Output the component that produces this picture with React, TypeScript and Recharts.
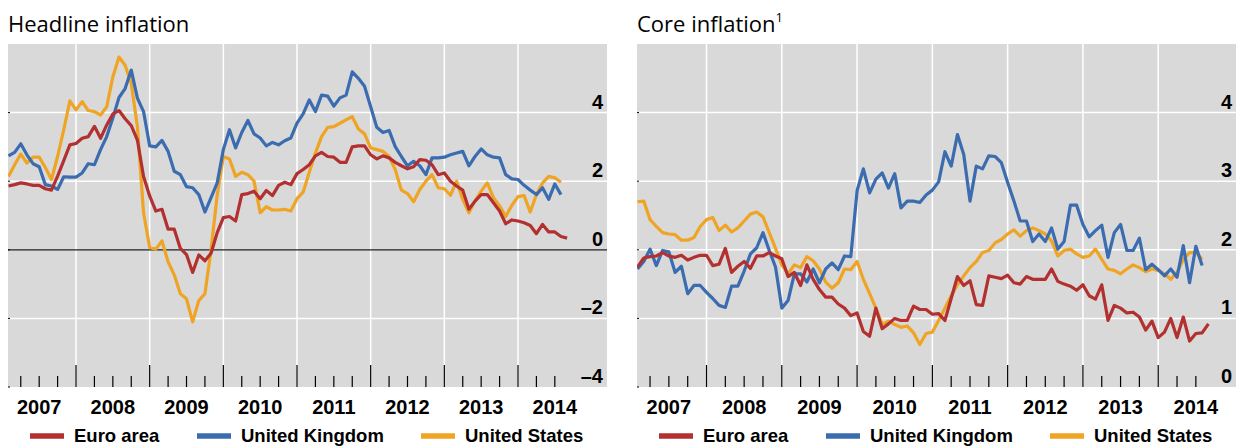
import { LineChart, Line, XAxis, YAxis, CartesianGrid, ReferenceLine } from 'recharts';

// months are counted from Jan 2007 = 0; the series start in Feb 2007
const firstMonth = 1;

const years = ['2007', '2008', '2009', '2010', '2011', '2012', '2013', '2014'];
const quarterTicks = Array.from({ length: 30 }, (_, i) => (i + 1) * 3);
const yearLines = [12, 24, 36, 48, 60, 72, 84];

const headlineTicks = [-4, -2, 0, 2, 4];
const headlineTickLabels = ['\u20134', '\u20132', '0', '2', '4'];
const coreTicks = [0, 1, 2, 3, 4];
const coreTickLabels = ['0', '1', '2', '3', '4'];

const headlineEuro = [
    1.86, 1.9, 1.95, 1.92, 1.88, 1.88, 1.78, 1.74, 2.15, 2.6, 3.06, 3.1,
    3.25, 3.3, 3.6, 3.25, 3.64, 3.96, 4.06, 3.82, 3.62, 3.2, 2.14, 1.57,
    1.13, 1.18, 0.6, 0.6, 0.04, -0.14, -0.66, -0.15, -0.32, -0.1, 0.5, 0.94,
    0.97, 0.84, 1.61, 1.64, 1.71, 1.49, 1.73, 1.58, 1.88, 1.97, 1.9, 2.22,
    2.34, 2.48, 2.74, 2.84, 2.72, 2.7, 2.55, 2.55, 3.0, 3.03, 3.03, 2.77,
    2.65, 2.74, 2.68, 2.55, 2.45, 2.36, 2.42, 2.63, 2.61, 2.48, 2.19, 2.24,
    2.0, 1.86, 1.74, 1.18, 1.42, 1.61, 1.61, 1.37, 1.13, 0.76, 0.87, 0.84,
    0.79, 0.71, 0.47, 0.74, 0.52, 0.52, 0.39, 0.34,
];
const headlineUK = [
    2.74, 2.84, 3.09, 2.77, 2.51, 2.42, 1.9, 1.86, 1.76, 2.13, 2.12, 2.12,
    2.24, 2.51, 2.48, 2.92, 3.3, 3.84, 4.44, 4.7, 5.24, 4.42, 4.03, 3.03,
    3.0, 3.19, 2.87, 2.29, 2.19, 1.84, 1.81, 1.61, 1.1, 1.52, 1.95, 2.92,
    3.5, 2.97, 3.42, 3.77, 3.38, 3.26, 3.03, 3.13, 3.06, 3.18, 3.26, 3.69,
    3.96, 4.37, 4.03, 4.51, 4.48, 4.19, 4.43, 4.51, 5.19, 5.0, 4.77, 4.17,
    3.57, 3.42, 3.48, 3.01, 2.72, 2.45, 2.58, 2.45, 2.19, 2.68, 2.68, 2.7,
    2.77, 2.82, 2.87, 2.45, 2.72, 2.94, 2.77, 2.7, 2.68, 2.19, 2.07, 2.05,
    1.88, 1.74, 1.61, 1.81, 1.47, 1.92, 1.61,
];
const headlineUS = [
    2.14, 2.48, 2.79, 2.53, 2.7, 2.7, 2.4, 2.05, 2.72, 3.5, 4.34, 4.08,
    4.32, 4.06, 4.03, 3.93, 4.17, 5.04, 5.62, 5.38, 4.85, 3.59, 1.08, 0.07,
    0.02, 0.26, -0.35, -0.73, -1.28, -1.43, -2.1, -1.48, -1.28, 0.0, 1.6, 2.72,
    2.65, 2.14, 2.26, 2.19, 2.0, 1.08, 1.26, 1.16, 1.16, 1.18, 1.13, 1.49,
    1.68, 2.26, 2.82, 3.3, 3.57, 3.59, 3.69, 3.79, 3.88, 3.52, 3.38, 2.97,
    2.92, 2.87, 2.72, 2.34, 1.74, 1.64, 1.4, 1.76, 2.0, 2.19, 1.81, 1.78,
    1.59, 2.0, 1.47, 1.08, 1.42, 1.71, 1.95, 1.52, 1.28, 0.97, 1.3, 1.55,
    1.58, 1.1, 1.61, 1.95, 2.14, 2.1, 1.97,
];

const coreEuro = [
    1.75, 1.88, 1.9, 1.91, 1.96, 1.91, 1.89, 1.92, 1.85, 1.89, 1.92, 1.92,
    1.77, 1.79, 2.02, 1.67, 1.76, 1.83, 1.73, 1.91, 1.91, 1.96, 1.91, 1.87,
    1.61, 1.67, 1.48, 1.78, 1.57, 1.42, 1.31, 1.31, 1.21, 1.15, 1.04, 1.08,
    0.81, 0.74, 1.15, 0.85, 0.92, 1.0, 0.97, 0.97, 1.18, 1.13, 1.13, 1.06,
    1.07, 0.97, 1.29, 1.61, 1.48, 1.55, 1.2, 1.19, 1.62, 1.6, 1.58, 1.63,
    1.52, 1.5, 1.61, 1.57, 1.57, 1.57, 1.72, 1.54, 1.5, 1.47, 1.41, 1.49,
    1.33, 1.28, 1.49, 0.97, 1.19, 1.15, 1.08, 1.09, 1.02, 0.83, 0.96, 0.72,
    0.8, 1.0, 0.72, 1.02, 0.67, 0.78, 0.79, 0.92,
];
const coreUK = [
    1.72, 1.83, 2.01, 1.77, 1.99, 1.97, 1.67, 1.76, 1.36, 1.48, 1.48, 1.38,
    1.29, 1.19, 1.16, 1.47, 1.47, 1.69, 1.94, 2.03, 2.25, 1.99, 1.75, 1.15,
    1.26, 1.65, 1.65, 1.53, 1.72, 1.52, 1.72, 1.81, 1.71, 1.91, 1.9, 2.86,
    3.18, 2.83, 3.03, 3.12, 2.9, 3.11, 2.61, 2.71, 2.71, 2.69, 2.8, 2.87,
    2.99, 3.43, 3.22, 3.68, 3.39, 2.71, 3.22, 3.18, 3.37, 3.36, 3.27, 2.98,
    2.71, 2.42, 2.42, 2.12, 2.23, 2.12, 2.32, 2.01, 2.12, 2.65, 2.65, 2.37,
    2.19, 2.28, 2.36, 1.89, 2.25, 2.37, 1.99, 1.99, 2.17, 1.71, 1.79, 1.71,
    1.62, 1.72, 1.6, 2.06, 1.52, 2.05, 1.77,
];
const coreUS = [
    2.7, 2.71, 2.44, 2.34, 2.25, 2.23, 2.22, 2.14, 2.14, 2.18, 2.34, 2.44,
    2.47, 2.28, 2.36, 2.26, 2.32, 2.42, 2.52, 2.55, 2.48, 2.25, 2.02, 1.78,
    1.65, 1.78, 1.74, 1.9, 1.84, 1.72, 1.53, 1.44, 1.52, 1.72, 1.71, 1.83,
    1.57, 1.36, 1.15, 0.91, 0.96, 0.91, 0.87, 0.89, 0.79, 0.62, 0.78, 0.8,
    0.97, 1.15, 1.33, 1.49, 1.62, 1.74, 1.83, 1.96, 1.99, 2.1, 2.15, 2.23,
    2.29, 2.2, 2.28, 2.32, 2.28, 2.23, 2.13, 1.91, 1.99, 2.01, 1.94, 1.89,
    1.91, 2.01, 1.86, 1.72, 1.7, 1.65, 1.72, 1.78, 1.74, 1.68, 1.72, 1.7,
    1.65, 1.57, 1.67, 1.86, 1.96, 1.96, 1.86,
];

const RED = '#b2302f';
const BLUE = '#3a6caf';
const ORANGE = '#efa423';
const GREY = '#d9d9d9';
const ARIAL = '"Liberation Sans", Arial, sans-serif';

const buildRows = (ea: number[], uk: number[], us: number[]) => {
    const n = Math.max(ea.length, uk.length, us.length);
    return Array.from({ length: n }, (_, i) => ({
        m: firstMonth + i,
        ea: ea[i],
        uk: uk[i],
        us: us[i],
    }));
};

const PLOT_LEFT = 8;
const PLOT_RIGHT = 607;

const XTick = ({ x, y, payload }: any) => {
    const v = payload.value;
    const major = v % 12 === 0;
    const label = v % 12 === 6 ? years[(v - 6) / 12] : null;
    return (
        <g>
            <line x1={x} x2={x} y1={y} y2={y - (major ? 22 : 11)} stroke="#000" strokeWidth={1.2} />
            {label && (
                <text x={x} y={y + 27} textAnchor="middle" fontSize={20} fontWeight="bold" fontFamily={ARIAL} fill="#000">
                    {label}
                </text>
            )}
        </g>
    );
};

const makeYTick = (ticks: number[], labels: string[]) => ({ y, payload }: any) => {
    const label = labels[ticks.indexOf(payload.value)];
    return (
        <g>
            <line x1={PLOT_LEFT} x2={PLOT_LEFT + 2} y1={y} y2={y} stroke="#000" strokeWidth={1} />
            <text x={PLOT_RIGHT - 4} y={y - 4} textAnchor="end" fontSize={20} fontWeight="bold" fontFamily={ARIAL} fill="#000">
                {label}
            </text>
        </g>
    );
};

interface PanelProps {
    rows: { m: number; ea?: number; uk?: number; us?: number }[];
    width: number;
    xMax: number;
    yDomain: [number, number];
    ticks: number[];
    tickLabels: string[];
    gridValues: number[];
    zeroLine?: boolean;
}

const Panel = ({ rows, width, xMax, yDomain, ticks, tickLabels, gridValues, zeroLine }: PanelProps) => (
    <LineChart width={width} height={447} data={rows} margin={{ top: 44, right: width - PLOT_RIGHT, left: PLOT_LEFT, bottom: 0 }}>
        <CartesianGrid horizontal={false} vertical={false} fill={GREY} stroke="none" />
        {yearLines.map((m) => (
            <ReferenceLine key={'v' + m} x={m} stroke="#fff" strokeWidth={1.5} />
        ))}
        {gridValues.map((v) => (
            <ReferenceLine key={'h' + v} y={v} stroke="#fff" strokeWidth={1.5} />
        ))}
        {zeroLine && <ReferenceLine y={0} stroke="#222" strokeWidth={1.3} />}
        <XAxis
            dataKey="m"
            type="number"
            domain={[0.92, xMax]}
            ticks={quarterTicks.filter((t) => t <= 90)}
            interval={0}
            height={60}
            axisLine={false}
            tickLine={false}
            tickSize={0}
            tickMargin={0}
            tick={<XTick />}
            allowDataOverflow
        />
        <YAxis
            orientation="right"
            mirror
            type="number"
            domain={yDomain}
            ticks={ticks}
            interval={0}
            axisLine={false}
            tickLine={false}
            tickSize={0}
            tickMargin={0}
            tick={makeYTick(ticks, tickLabels)}
            allowDataOverflow
        />
        <Line dataKey="us" stroke={ORANGE} strokeWidth={3.2} dot={false} isAnimationActive={false} strokeLinejoin="round" />
        <Line dataKey="uk" stroke={BLUE} strokeWidth={3.2} dot={false} isAnimationActive={false} strokeLinejoin="round" />
        <Line dataKey="ea" stroke={RED} strokeWidth={3.2} dot={false} isAnimationActive={false} strokeLinejoin="round" />
    </LineChart>
);

const legendItems = [
    { name: 'Euro area', color: RED, x: 30 },
    { name: 'United Kingdom', color: BLUE, x: 197 },
    { name: 'United States', color: ORANGE, x: 421 },
];

const Overlay = () => (
    <svg width={1236} height={447} style={{ position: 'absolute', left: 0, top: 0, pointerEvents: 'none' }}>
        <text x={8} y={32} fontSize={22} fontFamily='"Open Sans", sans-serif' fill="#000">
            Headline inflation
        </text>
        <text x={637} y={32} fontSize={22} fontFamily='"Open Sans", sans-serif' fill="#000">
            Core inflation
            <tspan dy={-10} fontSize={13}>1</tspan>
        </text>
        {[0, 629].map((dx) =>
            legendItems.map((it) => (
                <g key={dx + it.name}>
                    <line x1={dx + it.x} x2={dx + it.x + 34} y1={436} y2={436} stroke={it.color} strokeWidth={5.3} />
                    <text x={dx + it.x + 44} y={442} fontSize={18.5} fontWeight="bold" fontFamily={ARIAL} fill="#000">
                        {it.name}
                    </text>
                </g>
            ))
        )}
    </svg>
);

const App = () => {
    const headlineRows = buildRows(headlineEuro, headlineUK, headlineUS);
    const coreRows = buildRows(coreEuro, coreUK, coreUS);
    return (
        <div style={{ position: 'absolute', left: 0, top: 0, width: 1236, height: 447, background: '#fff', overflow: 'hidden' }}>
            <div style={{ position: 'absolute', left: 0, top: 0 }}>
                <Panel
                    rows={headlineRows}
                    width={618}
                    xMax={98.5}
                    yDomain={[-4, 6]}
                    ticks={headlineTicks}
                    tickLabels={headlineTickLabels}
                    gridValues={[-2, 2, 4]}
                    zeroLine
                />
            </div>
            <div style={{ position: 'absolute', left: 629, top: 0 }}>
                <Panel
                    rows={coreRows}
                    width={607}
                    xMax={96.4}
                    yDomain={[0, 5]}
                    ticks={coreTicks}
                    tickLabels={coreTickLabels}
                    gridValues={[1, 2, 3, 4]}
                />
            </div>
            <Overlay />
        </div>
    );
};

export default App;
